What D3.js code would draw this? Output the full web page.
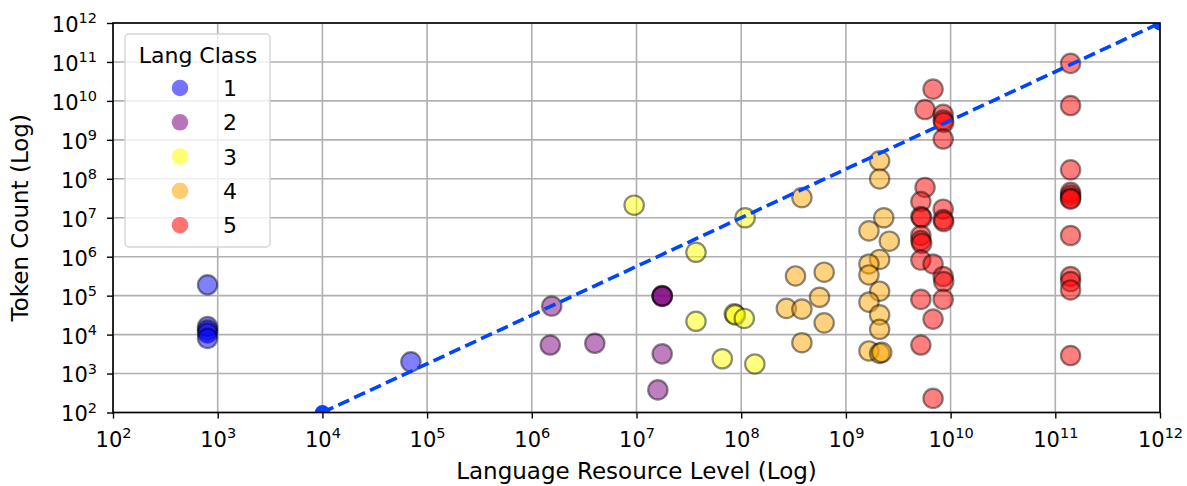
<!DOCTYPE html>
<html>
<head>
<meta charset="utf-8">
<script src="https://cdn.jsdelivr.net/npm/d3@7"></script>
<style>
  body { margin: 0; background: #fff; }
  text { font-family: "DejaVu Sans", sans-serif; }
</style>
</head>
<body>
<svg width="1187" height="486"></svg>
<script>
const svg     = d3.select("svg"),
      plotL   = 113,
      plotR   = 1160,
      plotT   = 23,
      plotB   = 412.5

// Language resource level (x) and token count (y), per language class
const class1X = [800, 800, 800, 800, 800, 7e4]
const class1Y = [1.9e5, 1.6e4, 1.3e4, 1.1e4, 8e3, 2e3]

const class2X = [1.55e6, 1.5e6, 4e6, 1.76e7, 1.76e7, 1.76e7, 1.76e7, 1.6e7]
const class2Y = [5.4e4, 5.4e3, 6e3, 1e5, 9.6e4, 9.8e4, 3.2e3, 380]

const class3X = [9.5e6, 1.09e8, 3.7e7, 3.7e7, 8.6e7, 8.8e7, 1.07e8, 6.6e7, 1.35e8]
const class3Y = [2.1e7, 1e7, 1.3e6, 2.2e4, 3.4e4, 3.2e4, 2.6e4, 2.4e3, 1.76e3]

const class4X = [3.8e8, 3.3e8, 6.2e8, 5.6e8, 2.7e8, 3.8e8, 6.2e8, 3.8e8,
                 2.1e9, 2.1e9, 2.3e9, 1.66e9, 2.6e9, 2.1e9, 1.66e9, 1.66e9,
                 2.1e9, 1.66e9, 2.1e9, 2.1e9, 1.66e9, 2.1e9, 2.2e9]
const class4Y = [3.3e7, 3.2e5, 4e5, 9.1e4, 4.7e4, 4.5e4, 2e4, 6.2e3,
                 2.9e8, 9.9e7, 1e7, 4.6e6, 2.5e6, 8.5e5, 6.5e5, 3.4e5,
                 1.3e5, 6.8e4, 3.2e4, 1.37e4, 3.8e3, 3.3e3, 3.5e3]

const class5X = [6.8e9, 5.7e9, 8.5e9, 8.5e9, 8.6e9, 8.5e9, 5.7e9, 5.2e9,
                 8.5e9, 5.2e9, 5.3e9, 8.5e9, 8.6e9, 5.2e9, 5.2e9, 5.3e9,
                 5.2e9, 6.8e9, 8.5e9, 8.6e9, 5.2e9, 8.5e9, 6.8e9, 5.2e9, 6.8e9,
                 1.4e11, 1.4e11, 1.4e11, 1.4e11, 1.4e11, 1.4e11, 1.4e11,
                 1.4e11, 1.4e11, 1.4e11, 1.4e11, 1.4e11]
const class5Y = [2e10, 6e9, 4.5e9, 3.2e9, 2.8e9, 1.05e9, 6e7, 2.6e7,
                 1.66e7, 1.07e7, 1e7, 9e6, 8e6, 3.5e6, 2.6e6, 2.2e6,
                 8.2e5, 6.5e5, 3.1e5, 2.3e5, 8e4, 8e4, 2.5e4, 5.4e3, 230,
                 9.2e10, 7.6e9, 1.7e8, 4.5e7, 3.8e7, 3.2e7, 3e7,
                 3.5e6, 3.1e5, 2.3e5, 1.4e5, 2.9e3]

const classes = ['1', '2', '3', '4', '5'],
      classColors = ['#0000ff', '#800080', '#ffff00', '#ffa500', '#ff0000']

// reference line endpoints
const refX = [1e4, 1e12],
      refY = [1e2, 1e12]

const tickValues = d3.range(2, 13).map((p) => Math.pow(10, p))

const x = d3.scaleLog().domain([1e2, 1e12]).range([plotL, plotR]),
      y = d3.scaleLog().domain([1e2, 1e12]).range([plotB, plotT])

const series = [
  [class1X, class1Y], [class2X, class2Y], [class3X, class3Y],
  [class4X, class4Y], [class5X, class5Y]
]

svg.append("defs").append("clipPath").attr("id", "plot")
  .append("rect")
    .attr("x", plotL).attr("y", plotT)
    .attr("width", plotR - plotL).attr("height", plotB - plotT)

// grid
svg.append("g").selectAll("line")
    .data(tickValues)
  .enter().append("line")
    .attr("x1", (d) => x(d)).attr("x2", (d) => x(d))
    .attr("y1", plotT).attr("y2", plotB)
    .style("stroke", "#b0b0b0").style("stroke-width", 1.6)
svg.append("g").selectAll("line")
    .data(tickValues)
  .enter().append("line")
    .attr("x1", plotL).attr("x2", plotR)
    .attr("y1", (d) => y(d)).attr("y2", (d) => y(d))
    .style("stroke", "#b0b0b0").style("stroke-width", 1.6)

// axes
function supLabel(sel) {
  sel.each(function(d) {
    const t = d3.select(this).text(null)
    t.append("tspan").text("10")
    t.append("tspan").attr("dy", "-0.6em").style("font-size", "14.5px")
      .text(Math.round(Math.log10(d)))
  })
}

const xAxis = svg.append("g")
    .attr("transform", `translate(0,${plotB})`)
    .call(d3.axisBottom(x).tickValues(tickValues).tickSize(6).tickPadding(5).tickFormat(() => ""))
xAxis.select(".domain").remove()
xAxis.selectAll("line").style("stroke", "#000").style("stroke-width", 1.4)
xAxis.selectAll("text").style("font-size", "21px").style("fill", "#000")
    .attr("text-anchor", "middle")
    .attr("y", 34).attr("dy", 0).call(supLabel)

const yAxis = svg.append("g")
    .attr("transform", `translate(${plotL},0)`)
    .call(d3.axisLeft(y).tickValues(tickValues).tickSize(6).tickPadding(15).tickFormat(() => ""))
yAxis.select(".domain").remove()
yAxis.selectAll("line").style("stroke", "#000").style("stroke-width", 1.4)
yAxis.selectAll("text").style("font-size", "21px").style("fill", "#000")
    .attr("text-anchor", "end").attr("x", -16)
    .attr("dy", "0.4em").call(supLabel)

// points
const plot = svg.append("g").attr("clip-path", "url(#plot)")
series.forEach(function(s, i) {
  plot.append("g").selectAll("circle")
      .data(s[0].map((v, j) => [v, s[1][j]]))
    .enter().append("circle")
      .attr("cx", (d) => x(d[0]))
      .attr("cy", (d) => y(d[1]))
      .attr("r", 9.7)
      .style("fill", classColors[i])
      .style("fill-opacity", 0.5)
      .style("stroke", "#000")
      .style("stroke-opacity", 0.45)
      .style("stroke-width", 2.2)
})

// dashed reference line
plot.append("line")
    .attr("x1", x(refX[0])).attr("y1", y(refY[0]))
    .attr("x2", x(refX[1])).attr("y2", y(refY[1]))
    .style("stroke", "#0044ff").style("stroke-width", 3.6)
    .style("stroke-dasharray", "12,5.5")
plot.selectAll(".refdot")
    .data([0, 1])
  .enter().append("circle")
    .attr("cx", (i) => x(refX[i])).attr("cy", (i) => y(refY[i]))
    .attr("r", 7.5).style("fill", "#0044ff")

// spines
svg.append("rect")
    .attr("x", plotL).attr("y", plotT)
    .attr("width", plotR - plotL).attr("height", plotB - plotT)
    .style("fill", "none").style("stroke", "#000").style("stroke-width", 1.6)

// axis titles
svg.append("text")
    .attr("x", (plotL + plotR) / 2).attr("y", 479)
    .style("text-anchor", "middle").style("font-size", "23px")
    .text("Language Resource Level (Log)")
svg.append("text")
    .attr("transform", `translate(28,${(plotT + plotB) / 2}) rotate(-90)`)
    .style("text-anchor", "middle").style("font-size", "23px")
    .text("Token Count (Log)")

// legend
const legend = svg.append("g")
legend.append("rect")
    .attr("x", 125).attr("y", 34).attr("width", 145).attr("height", 213)
    .attr("rx", 4)
    .style("fill", "#fff").style("fill-opacity", 0.8)
    .style("stroke", "#d5d5d5").style("stroke-width", 1.4)
legend.append("text")
    .attr("x", 198).attr("y", 63)
    .style("text-anchor", "middle").style("font-size", "22px")
    .text("Lang Class")
legend.selectAll(".entry")
    .data(classes)
  .enter().append("circle")
    .attr("cx", 180).attr("cy", (d, i) => 88 + i * 34.3)
    .attr("r", 8.3)
    .style("fill", (d, i) => classColors[i]).style("fill-opacity", 0.55)
legend.selectAll(".label")
    .data(classes)
  .enter().append("text")
    .attr("x", 223).attr("y", (d, i) => 88 + i * 34.3)
    .attr("dy", "0.36em")
    .style("font-size", "22px")
    .text((d) => d)
</script>
</body>
</html>
